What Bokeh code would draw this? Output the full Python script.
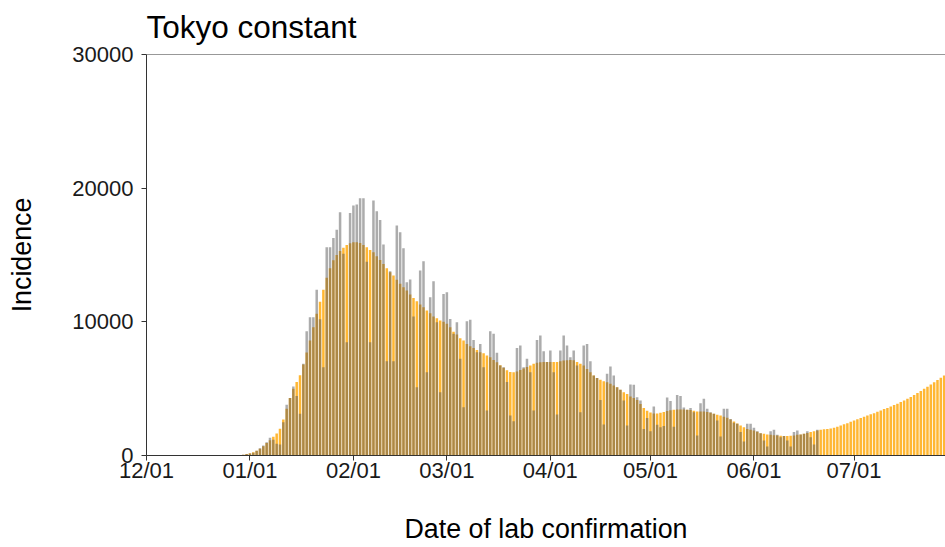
import pandas as pd
from bokeh.plotting import figure
from bokeh.models import (Range1d, FixedTicker, DatetimeTickFormatter,
                          NumeralTickFormatter, Span, ColumnDataSource)
from bokeh.embed import file_html
from bokeh.resources import INLINE

# ---- data ----
model_start = "2021-12-29"
model_cases = [
    30, 60, 110, 170, 250, 360, 510, 700, 930, 1150,
    1400, 1650, 2000, 2700, 3500, 4300, 5000, 5500, 6000, 6800,
    7700, 8600, 9600, 10600, 11500, 12400, 13300, 14000, 14600, 15000,
    15300, 15550, 15750, 15880, 15950, 15960, 15900, 15750, 15580, 15380,
    15200, 14900, 14630, 14330, 14010, 13710, 13460, 13140, 12840, 12590,
    12340, 12050, 11790, 11540, 11290, 11090, 10840, 10640, 10400, 10270,
    10100, 10000, 9850, 9600, 9250, 9050, 8780, 8600, 8350, 8180,
    8050, 7900, 7730, 7650, 7480, 7350, 7150, 6980, 6750, 6560,
    6380, 6250, 6230, 6280, 6400, 6500, 6620, 6730, 6860, 6930,
    6980, 7000, 7000, 7000, 7000, 7000, 7050, 7100, 7120, 7150,
    7120, 7000, 6860, 6730, 6480, 6230, 5980, 5800, 5660, 5560,
    5480, 5360, 5240, 5110, 4910, 4740, 4610, 4410, 4310, 4150,
    3850, 3550, 3350, 3220, 3150, 3150, 3200, 3250, 3330, 3380,
    3420, 3440, 3440, 3440, 3430, 3400, 3340, 3290, 3290, 3290,
    3250, 3200, 3120, 3040, 2990, 2900, 2820, 2700, 2550, 2400,
    2240, 2120, 1990, 1920, 1870, 1770, 1670, 1620, 1570, 1550,
    1520, 1500, 1480, 1450, 1450, 1470, 1500, 1550, 1570, 1620,
    1680, 1750, 1820, 1870, 1920, 1960, 1990, 2020, 2080, 2150,
    2240, 2330, 2420, 2520, 2620, 2710, 2800, 2890, 2990, 3080,
    3170, 3270, 3370, 3470, 3560, 3660, 3770, 3880, 4000, 4120,
    4240, 4380, 4520, 4670, 4830, 4990, 5150, 5310, 5480, 5640,
    5810, 5980, 6150, 6320, 6500,
]

obs_start = "2021-12-30"
obs_cases = [
    60, 110, 150, 200, 350, 550, 750, 1000, 1320, 1170,
    870, 820, 2490, 3790, 4310, 5160, 4460, 3120, 6860, 9300,
    10350, 10350, 12400, 10200, 6600, 15580, 15580, 16280, 16880, 18200,
    15100, 8480, 18150, 18700, 18770, 19250, 19250, 14500, 8480, 19070,
    18270, 17620, 15780, 7050, 13790, 7050, 17200, 16700, 15500, 12960,
    13160, 10400, 5110, 13840, 14530, 6230, 11840, 13040, 9970, 4740,
    12090, 12220, 10220, 9100, 9970, 7230, 3610, 10050, 10150, 8650,
    7730, 8350, 6610, 3370, 9300, 9100, 7680, 6730, 6600, 5490,
    2990, 2570, 8050, 8230, 6610, 7230, 6230, 3370, 8650, 8980,
    7800, 7000, 7850, 6230, 3070, 7850, 8980, 8230, 7350, 7850,
    6730, 3240, 8230, 8350, 7050, 5980, 5800, 4160, 2320, 6110,
    6660, 5980, 5110, 4910, 4110, 2240, 5310, 5300, 4360, 4110,
    1990, 2800, 1820, 3670, 2300, 2120, 2200, 4330, 4080, 2150,
    4520, 4460, 3600, 3430, 3560, 3240, 1500, 3910, 4240, 3490,
    3240, 3120, 2620, 1420, 3490, 3490, 2740, 2450, 2370, 1750,
    1050, 2370, 2370, 2070, 1820, 1670, 1120, 670, 1820, 1920,
    1550, 1370, 1450, 1120, 670, 1750, 1870, 1570, 1620, 1820,
    1370, 820, 1920,
]

tick_dates = ["2021-12-01", "2022-01-01", "2022-02-01", "2022-03-01",
              "2022-04-01", "2022-05-01", "2022-06-01", "2022-07-01"]
y_ticks = [0, 10000, 20000, 30000]
title_text = "Tokyo constant"
x_label = "Date of lab confirmation"
y_label = "Incidence"

# ---- build ----
DAY_MS = 86400000
def ms(ts):
    return pd.Timestamp(ts).value // 10**6

model_src = ColumnDataSource(dict(
    date=pd.date_range(model_start, periods=len(model_cases), freq="D"),
    cases=model_cases))
obs_src = ColumnDataSource(dict(
    date=pd.date_range(obs_start, periods=len(obs_cases), freq="D"),
    cases=obs_cases))

x_start = ms("2021-12-01")
x_end = x_start + int(239.4 * DAY_MS)
y_top = y_ticks[-1]

p = figure(width=945, height=547, x_axis_type="datetime",
           x_range=Range1d(x_start, x_end), y_range=Range1d(0, y_top),
           output_backend="svg", toolbar_location=None,
           min_border_left=146, min_border_right=0,
           min_border_top=54, min_border_bottom=92)

p.vbar(x="date", top="cases", width=0.75 * DAY_MS, source=model_src,
       fill_color="#FFA500", fill_alpha=0.8, line_color=None)
p.vbar(x="date", top="cases", width=0.75 * DAY_MS, source=obs_src,
       fill_color="#595959", fill_alpha=0.5, line_color=None)

p.title.text = title_text
p.title.text_font = "Liberation Sans"
p.title.text_font_size = "31.5px"
p.title.text_font_style = "normal"
p.title.text_color = "black"
p.title.align = "left"
p.title.vertical_align = "top"
p.title.offset = 0
p.title.standoff = 16

p.grid.visible = False
p.outline_line_color = None
p.background_fill_color = "white"
p.border_fill_color = "white"

p.add_layout(Span(location=y_top, dimension="width",
                  line_color="#333333", line_width=1))

p.xaxis.ticker = FixedTicker(ticks=[ms(t) for t in tick_dates])
fmt = "%m/%d"
p.xaxis.formatter = DatetimeTickFormatter(
    milliseconds=fmt, seconds=fmt, minsec=fmt, minutes=fmt, hourmin=fmt,
    hours=fmt, days=fmt, months=fmt, years=fmt)
p.yaxis.ticker = FixedTicker(ticks=y_ticks)
p.yaxis.formatter = NumeralTickFormatter(format="0")

p.xaxis.axis_label = x_label
p.yaxis.axis_label = y_label

for ax in (p.xaxis[0], p.yaxis[0]):
    ax.axis_line_color = "#333333"
    ax.axis_line_width = 1
    ax.major_tick_line_color = "#333333"
    ax.major_tick_out = 5
    ax.major_tick_in = 0
    ax.minor_tick_out = 0
    ax.minor_tick_in = 0
    ax.major_label_text_font = "Liberation Sans"
    ax.major_label_text_font_size = "22px"
    ax.major_label_text_color = "#1a1a1a"
    ax.axis_label_text_font = "Liberation Sans"
    ax.axis_label_text_font_size = "26.8px"
    ax.axis_label_text_font_style = "normal"
    ax.axis_label_text_color = "black"

p.yaxis.major_label_standoff = 8
p.yaxis.axis_label_standoff = 32
p.xaxis.major_label_standoff = -3
p.xaxis.axis_label_standoff = 28

open("out.html", "w").write(file_html(p, INLINE))
